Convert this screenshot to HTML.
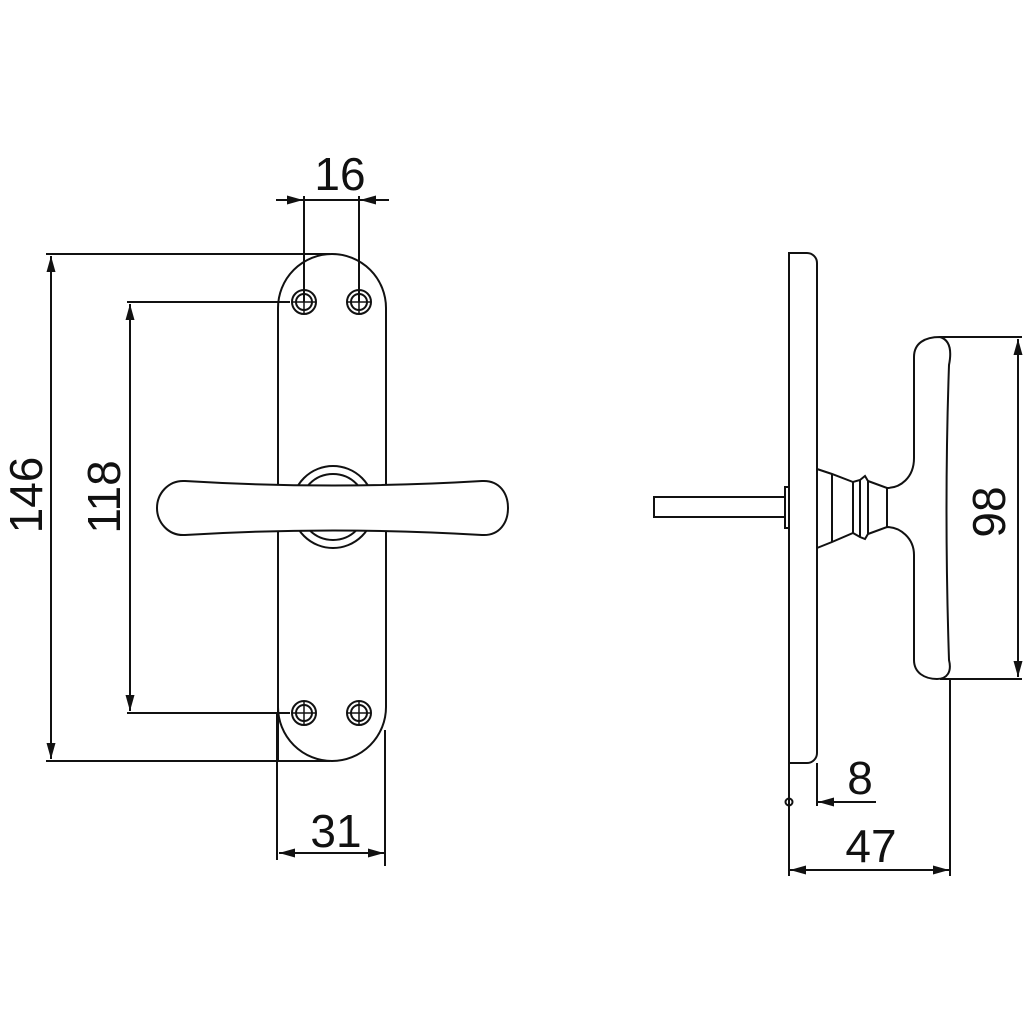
<!DOCTYPE html>
<html><head><style>html,body{margin:0;padding:0;background:#fff}svg{display:block}</style></head>
<body>
<svg width="1024" height="1024" viewBox="0 0 1024 1024" xmlns="http://www.w3.org/2000/svg">
<defs>
<marker id="a" viewBox="0 0 16 9" refX="16" refY="4.5" markerWidth="16" markerHeight="9" markerUnits="userSpaceOnUse" orient="auto"><path d="M0,0 L16,4.5 L0,9 Z" fill="#111"/></marker>
</defs>
<g fill="none" stroke="#111" stroke-width="2">
<path d="M278,761 V308 A54,54 0 0 1 386,308 V707 A54,54 0 0 1 278,707"/>
<g>
<circle cx="304" cy="302" r="12"/><circle cx="304" cy="302" r="8"/><path d="M292,302 H316 M304,290 V314" stroke-width="1.5"/>
<circle cx="359" cy="302" r="12"/><circle cx="359" cy="302" r="8"/><path d="M347,302 H371 M359,290 V314" stroke-width="1.5"/>
<circle cx="304" cy="713" r="12"/><circle cx="304" cy="713" r="8"/><path d="M292,713 H316 M304,701 V725" stroke-width="1.5"/>
<circle cx="359" cy="713" r="12"/><circle cx="359" cy="713" r="8"/><path d="M347,713 H371 M359,701 V725" stroke-width="1.5"/>
</g>
<circle cx="333" cy="507" r="41" fill="#fff"/>
<circle cx="333" cy="507" r="33"/>
<path d="M185,481 Q333,490 482,481 C500,480 508,494 508,508 C508,522 500,536 482,535 Q333,526 185,535 C168,536 157,522 157,508 C157,494 168,480 185,481 Z" fill="#fff"/>
<path d="M46,254 H330 M46,761 H330"/>
<path d="M51,500 V256" marker-end="url(#a)"/><path d="M51,500 V759" marker-end="url(#a)"/>
<path d="M127,302 H290 M127,713 H290"/>
<path d="M130,500 V304" marker-end="url(#a)"/><path d="M130,500 V711" marker-end="url(#a)"/>
<path d="M304,196 V302 M359,196 V302"/>
<path d="M276,200 H303" marker-end="url(#a)"/><path d="M389,200 H360" marker-end="url(#a)"/><path d="M304,200 H359"/>
<path d="M277,713 V860 M385,730 V866"/>
<path d="M331,853 H279" marker-end="url(#a)"/><path d="M331,853 H384" marker-end="url(#a)"/>
<path d="M789,763 V253 H807 A10,10 0 0 1 817,263 V753 A10,10 0 0 1 807,763 H789"/>
<rect x="654" y="497" width="131" height="20"/>
<rect x="785" y="487" width="4" height="41"/>
<path d="M817,469 L832,474 L853,482 L860,480 L865,476 L868,481 L887,488 C900,488 914,478 914,458 V357 C914,343 925,337 940,337 C950,340 952,350 949,365 Q944,508 949,660 C952,672 947,679 937,679 C925,679 914,673 914,660 V555 C914,538 900,527 887,527 L868,534 L865,539 L860,537 L853,533 L832,542 L817,548"/>
<path d="M832,474 V542 M853,482 V533 M860,480 V537 M868,481 V534 M887,488 V527"/>
<path d="M940,337 H1022 M940,679 H1022"/>
<path d="M1018,508 V339" marker-end="url(#a)"/><path d="M1018,508 V677" marker-end="url(#a)"/>
<path d="M789,763 V876 M817,763 V806 M950,679 V876"/>
<circle cx="789" cy="802" r="3.5"/>
<path d="M876,802 H818" marker-end="url(#a)"/>
<path d="M870,870 H790" marker-end="url(#a)"/><path d="M870,870 H949" marker-end="url(#a)"/>
</g>
<g font-family="Liberation Sans, sans-serif" font-size="46" fill="#111" text-anchor="middle">
<text x="340" y="190">16</text>
<text x="336" y="847">31</text>
<text x="860" y="794">8</text>
<text x="871" y="862">47</text>
<text transform="translate(42,495) rotate(-90)">146</text>
<text transform="translate(120,497) rotate(-90)">118</text>
<text transform="translate(1005,512) rotate(-90)">98</text>
</g>
</svg>
</body></html>
